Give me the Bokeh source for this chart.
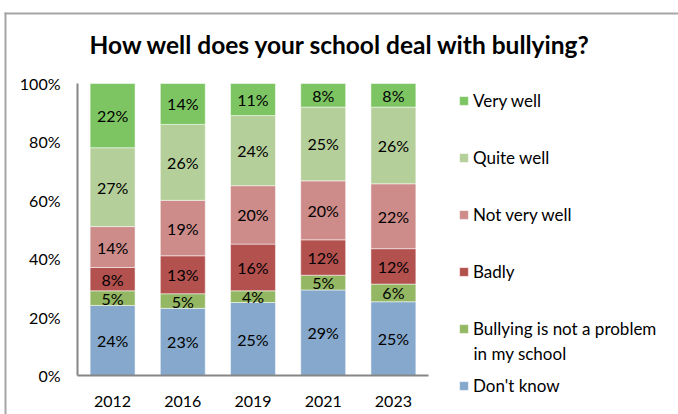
from bokeh.plotting import figure
from bokeh.models import (Range1d, LinearAxis, FixedTicker, Legend, LegendItem,
                          Label, BoxAnnotation, ColumnDataSource)
from bokeh.core.properties import value
from bokeh.embed import file_html
from bokeh.resources import INLINE

# ---- data ----
years = ["2012", "2016", "2019", "2021", "2023"]
dont_know = [24, 23, 25, 29, 25]
not_a_problem = [5, 5, 4, 5, 6]
badly = [8, 13, 16, 12, 12]
not_very_well = [14, 19, 20, 20, 22]
quite_well = [27, 26, 24, 25, 26]
very_well = [22, 14, 11, 8, 8]

series_names = ["Don't know", "Bullying is not a problem", "Badly",
                "Not very well", "Quite well", "Very well"]
series_values = [dont_know, not_a_problem, badly, not_very_well, quite_well, very_well]
colors = ["#85A8CC", "#93B762", "#B3514F", "#CD8B89", "#B4CF99", "#7DC563"]
y_ticks = [0, 20, 40, 60, 80, 100]
y_tick_labels = ["0%", "20%", "40%", "60%", "80%", "100%"]
title_text = "How well does your school deal with bullying?"
legend_second_line = "in my school"

FONT = "Lato"

# ---- layout (pixels) ----
W, H = 678, 414
PL, PR, PT, PB = 77, 428, 83, 375          # plot-area edges on the canvas
n = len(years)
ux = (PR - PL) / n                           # px per category
uy = (PB - PT) / 100.0                       # px per percent

# 100% stacked: normalise each year's column to 100
totals = [sum(v[i] for v in series_values) for i in range(n)]
keys = [f"s{k}" for k in range(len(series_values))]
xpos = [i + 0.5 for i in range(n)]
data = {"x": xpos}
for k, vals in zip(keys, series_values):
    data[k] = [v / t * 100 for v, t in zip(vals, totals)]
source = ColumnDataSource(data)

p = figure(x_range=Range1d(-PL / ux, n + (W - PR) / ux),
           y_range=Range1d(-(H - PB) / uy, 100 + PT / uy),
           width=W, height=H, output_backend="svg", toolbar_location=None,
           x_axis_location=None, y_axis_location=None,
           min_border=0, min_border_left=0, min_border_right=0,
           min_border_top=0, min_border_bottom=0)
p.outline_line_color = None
p.grid.visible = False

renderers = p.vbar_stack(keys, x="x", width=0.64, source=source,
                         fill_color=colors, line_color="white",
                         line_width=1, line_alpha=0.5)

# data labels
lx, ly, lt = [], [], []
for i in range(n):
    cum = 0.0
    for k, vals in zip(keys, series_values):
        h = data[k][i]
        lx.append(xpos[i])
        ly.append(cum + h / 2)
        lt.append(f"{vals[i]}%")
        cum += h
p.text(x=lx, y=ly, text=lt, text_align="center", text_baseline="middle",
       text_font=value(FONT), text_font_size="16px", text_color="#000000")


def style_axis(ax, standoff):
    ax.axis_line_color = "#868686"
    ax.axis_line_width = 2
    ax.major_tick_line_color = None
    ax.minor_tick_line_color = None
    ax.major_tick_out = 0
    ax.major_tick_in = 0
    ax.major_label_standoff = standoff
    ax.major_label_text_font = FONT
    ax.major_label_text_font_size = "16px"
    ax.major_label_text_color = "#000000"


ya = LinearAxis(fixed_location=0, bounds=(0, 100),
                ticker=FixedTicker(ticks=y_ticks),
                major_label_overrides=dict(zip(y_ticks, y_tick_labels)))
style_axis(ya, 17)
p.add_layout(ya, "left")

xa = LinearAxis(fixed_location=0, bounds=(0, n),
                ticker=FixedTicker(ticks=xpos),
                major_label_overrides=dict(zip(xpos, years)))
style_axis(xa, 20)
p.add_layout(xa, "below")

# legend
items = [LegendItem(label=name, renderers=[r])
         for name, r in zip(series_names, renderers)][::-1]
legend = Legend(items=items, location=(458, 18), padding=0, margin=0,
                spacing=36, label_height=21, glyph_height=11, glyph_width=11,
                label_standoff=4, border_line_color=None,
                background_fill_alpha=0, label_text_font=FONT,
                label_text_font_size="17px", label_text_color="#000000")
p.add_layout(legend)

p.add_layout(Label(x=473, y=353, x_units="canvas", y_units="canvas",
                   text=legend_second_line, text_baseline="middle",
                   text_font=FONT, text_font_size="17px",
                   text_color="#000000"))

# title
p.add_layout(Label(x=340, y=44, x_units="canvas", y_units="canvas",
                   text=title_text, text_align="center", text_baseline="middle",
                   text_font=FONT, text_font_size="24.5px",
                   text_font_style="bold", text_color="#000000"))

# outer chart border (top and left visible)
p.add_layout(BoxAnnotation(left=4, right=W, top=12, bottom=14,
                           left_units="canvas", right_units="canvas",
                           top_units="canvas", bottom_units="canvas",
                           fill_color="#A6A6A6", fill_alpha=1, line_color=None))
p.add_layout(BoxAnnotation(left=4, right=6, top=12, bottom=H,
                           left_units="canvas", right_units="canvas",
                           top_units="canvas", bottom_units="canvas",
                           fill_color="#A6A6A6", fill_alpha=1, line_color=None))

open("out.html", "w").write(file_html(p, INLINE))
